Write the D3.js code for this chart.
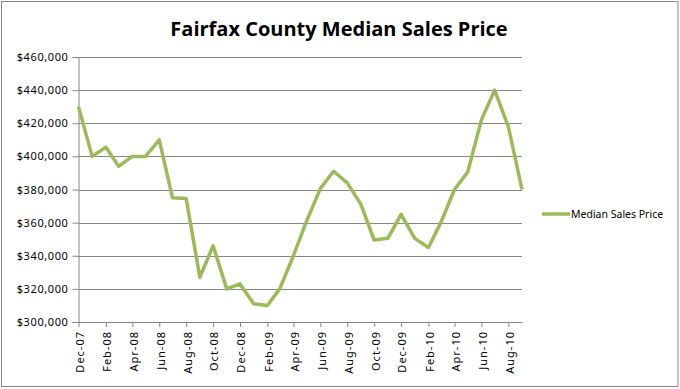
<!DOCTYPE html>
<html>
<head>
<meta charset="utf-8">
<script src="https://cdn.jsdelivr.net/npm/d3@7"></script>
<style>
  body { margin: 0; background: #fff; }
  svg { display: block; }
  .axis text { font-family: "Noto Sans", sans-serif; font-size: 11px; fill: #000; }
</style>
</head>
<body>
<div id="chart"></div>
<script>
// monthly median sales price, Dec-07 .. Sep-10
const months = ["Dec-07","Jan-08","Feb-08","Mar-08","Apr-08","May-08","Jun-08","Jul-08","Aug-08","Sep-08",
  "Oct-08","Nov-08","Dec-08","Jan-09","Feb-09","Mar-09","Apr-09","May-09","Jun-09","Jul-09",
  "Aug-09","Sep-09","Oct-09","Nov-09","Dec-09","Jan-10","Feb-10","Mar-10","Apr-10","May-10",
  "Jun-10","Jul-10","Aug-10","Sep-10"];
const prices = [430000,400000,405500,394000,400000,400000,410000,375000,374500,327000,
  346000,320000,323000,311000,310000,320000,340000,361000,380500,391000,
  384000,371000,349500,350500,365000,350500,345000,360000,380000,390500,
  422000,440000,418000,380000];
const yTicks = [300000,320000,340000,360000,380000,400000,420000,440000,460000];
const seriesName = "Median Sales Price";
const chartTitle = "Fairfax County Median Sales Price";

const W = 680, H = 389;
const margin = {top: 57, right: 158, bottom: 67, left: 78.5};
const width = W - margin.left - margin.right;
const height = H - margin.top - margin.bottom;

const parse = d3.timeParse("%b-%y");
const data = months.map((m, i) => ({date: parse(m), value: prices[i]}));

const svg = d3.select("#chart").append("svg")
    .attr("width", W)
    .attr("height", H);

// outer border
svg.append("rect")
    .attr("x", 1.5).attr("y", 1.5)
    .attr("width", W - 3.5).attr("height", H - 4)
    .attr("fill", "#fff")
    .attr("stroke", "#868686");

svg.append("text")
    .attr("x", 339)
    .attr("y", 36)
    .attr("text-anchor", "middle")
    .style("font-family", "'Open Sans', sans-serif")
    .style("font-weight", "bold")
    .style("font-size", "20px")
    .text(chartTitle);

const g = svg.append("g")
    .attr("transform", `translate(${margin.left},${margin.top})`);

const x = d3.scaleTime()
    .domain(d3.extent(data, d => d.date))
    .range([0, width]);

const y = d3.scaleLinear()
    .domain([300000, 460000])
    .range([height, 0]);

// gridlines
g.append("g")
    .selectAll("line")
    .data(yTicks.slice(1))
    .join("line")
    .attr("x1", 0).attr("x2", width)
    .attr("y1", d => Math.round(y(d)) + 0.5)
    .attr("y2", d => Math.round(y(d)) + 0.5)
    .attr("stroke", "#868686");

// y axis
const yAxis = g.append("g")
    .attr("class", "axis")
    .call(d3.axisLeft(y).tickValues(yTicks).tickSize(6).tickPadding(4)
        .tickFormat(d => "$" + d3.format(",")(d)));
yAxis.selectAll("path, line").attr("stroke", "#868686");
yAxis.selectAll("text").style("letter-spacing", "0.6px");

// x axis
const xTickVals = data.filter((d, i) => i % 2 === 0).map(d => d.date);
const xAxis = g.append("g")
    .attr("class", "axis")
    .attr("transform", `translate(0,${height})`)
    .call(d3.axisBottom(x).tickValues(xTickVals).tickSize(5).tickSizeOuter(0)
        .tickFormat(d3.timeFormat("%b-%y")));
xAxis.selectAll("path, line").attr("stroke", "#868686");
xAxis.selectAll("text")
    .attr("transform", "rotate(-90)")
    .attr("text-anchor", "end")
    .attr("x", -9)
    .attr("y", 1)
    .attr("dy", "0.35em")
    .style("letter-spacing", "1px");

// line
g.append("path")
    .datum(data)
    .attr("fill", "none")
    .attr("stroke", "#9BBB59")
    .attr("stroke-width", 3.5)
    .attr("stroke-linejoin", "round")
    .attr("d", d3.line().x(d => x(d.date)).y(d => y(d.value)));

// legend
const legend = svg.append("g").attr("transform", "translate(542,214)");
legend.append("line")
    .attr("x1", 0).attr("x2", 28)
    .attr("stroke", "#9BBB59").attr("stroke-width", 3.5);
legend.append("text")
    .attr("x", 29).attr("dy", "0.35em")
    .style("font-family", "'Noto Sans', sans-serif")
    .style("font-size", "10.5px")
    .text(seriesName);
</script>
</body>
</html>
